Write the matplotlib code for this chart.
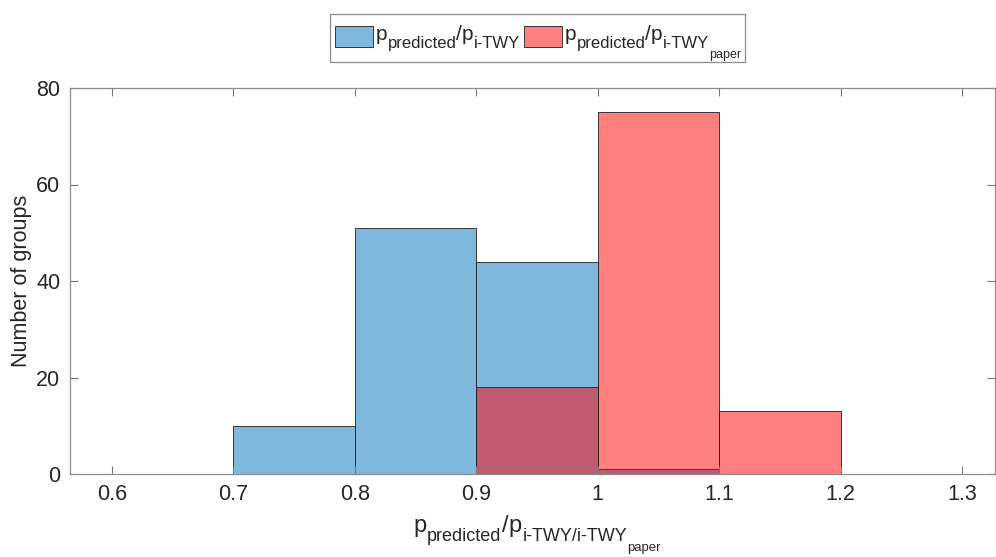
import matplotlib
matplotlib.use("Agg")
import matplotlib.pyplot as plt
from matplotlib.patches import Rectangle

plt.rcParams['font.family'] = ['Liberation Sans', 'DejaVu Sans']

# Data
blue_edges = [0.7, 0.8, 0.9, 1.0, 1.1]
blue_counts = [10, 51, 44, 1]
red_edges = [0.9, 1.0, 1.1, 1.2]
red_counts = [18, 75, 13]
xticks = [0.6, 0.7, 0.8, 0.9, 1.0, 1.1, 1.2, 1.3]
xticklabels = ['0.6', '0.7', '0.8', '0.9', '1', '1.1', '1.2', '1.3']
yticks = [0, 20, 40, 60, 80]
ylabel = 'Number of groups'

blue = (0, 0.447, 0.741)
red = (1, 0, 0)
edge = (0.15, 0.15, 0.15, 0.9)
txtc = '#262626'

W, H = 996, 557
fig = plt.figure(figsize=(W / 100, H / 100), dpi=100)
ax = fig.add_axes([70 / W, 83 / H, 925 / W, 386 / H])

bw = [blue_edges[i + 1] - blue_edges[i] for i in range(len(blue_counts))]
rw = [red_edges[i + 1] - red_edges[i] for i in range(len(red_counts))]
ax.bar(blue_edges[:-1], blue_counts, width=bw, align='edge',
       facecolor=blue + (0.5,), edgecolor=edge, linewidth=0.7)
ax.bar(red_edges[:-1], red_counts, width=rw, align='edge',
       facecolor=red + (0.5,), edgecolor=edge, linewidth=0.7)

ax.set_xlim(0.5655, 1.327)
ax.set_ylim(0, 80)
ax.set_xticks(xticks)
ax.set_xticklabels(xticklabels)
ax.set_yticks(yticks)

ax.tick_params(direction='in', top=True, right=True, length=6, width=0.8,
               color='#777777', labelcolor=txtc, labelsize=15.5, pad=7)
for s in ax.spines.values():
    s.set_color('#8c8c8c')
    s.set_linewidth(0.9)

ax.set_ylabel(ylabel, fontsize=15.5, color=txtc, labelpad=3)

renderer = fig.canvas.get_renderer()


def rich(parts, x, ha='left', gap=0.5):
    """parts: (text, size_pt, baseline_y_in_image_px)"""
    items = []
    for s, size, yb in parts:
        t = fig.text(0, 0, s, fontsize=size, va='baseline', ha='left', color=txtc)
        w = t.get_window_extent(renderer).width
        items.append((t, yb, w))
    total = sum(w for _, _, w in items) + gap * (len(items) - 1)
    x0 = x - total / 2 if ha == 'center' else x
    for t, yb, w in items:
        t.set_position((x0 / W, (H - yb) / H))
        x0 += w + gap


# x label
rich([('p', 17, 532), ('predicted', 13, 541), ('/', 17, 532), ('p', 17, 532),
      ('i-TWY/i-TWY', 13, 541), ('paper', 9.5, 551.5)], 537, ha='center')

# legend (drawn manually to get MATLAB-style sub/sub-subscripts)
fig.add_artist(Rectangle((330 / W, (H - 62) / H), 415 / W, 48 / H,
                         transform=fig.transFigure, facecolor='white',
                         edgecolor='#8c8c8c', linewidth=0.9))
fig.add_artist(Rectangle((335 / W, (H - 47) / H), 38 / W, 21 / H,
                         transform=fig.transFigure, facecolor=blue + (0.5,),
                         edgecolor=edge, linewidth=0.7))
fig.add_artist(Rectangle((524 / W, (H - 47) / H), 38 / W, 21 / H,
                         transform=fig.transFigure, facecolor=red + (0.5,),
                         edgecolor=edge, linewidth=0.7))
rich([('p', 15, 40), ('predicted', 12, 48), ('/', 15, 40), ('p', 15, 40),
      ('i-TWY', 12, 48)], 376, gap=0)
rich([('p', 15, 40), ('predicted', 12, 48), ('/', 15, 40), ('p', 15, 40),
      ('i-TWY', 12, 48), ('paper', 9, 58)], 565, gap=0)

fig.savefig('out.png', dpi=100)
